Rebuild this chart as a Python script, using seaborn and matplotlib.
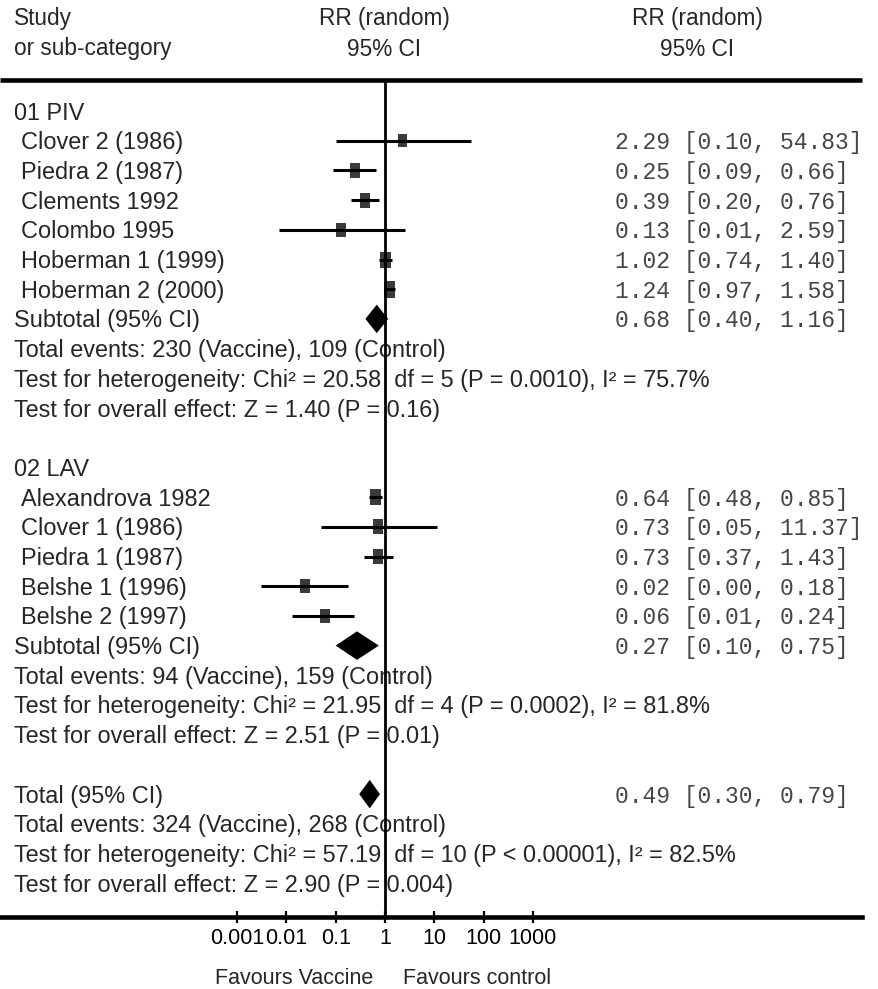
import numpy as np
import pandas as pd
import matplotlib
matplotlib.use("Agg")
import matplotlib.pyplot as plt
import seaborn as sns
from matplotlib.path import Path
from matplotlib.ticker import NullLocator
from matplotlib.transforms import blended_transform_factory

# ---------------- data ----------------
piv_studies = ["Clover 2 (1986)", "Piedra 2 (1987)", "Clements 1992", "Colombo 1995",
               "Hoberman 1 (1999)", "Hoberman 2 (2000)"]
piv_rr = [2.29, 0.25, 0.39, 0.13, 1.02, 1.24]
piv_lo = [0.10, 0.09, 0.20, 0.007, 0.74, 0.97]
piv_hi = [54.83, 0.66, 0.76, 2.59, 1.40, 1.58]
piv_sub = (0.68, 0.40, 1.16)
piv_stats = ["Total events: 230 (Vaccine), 109 (Control)",
             "Test for heterogeneity: Chi\u00b2 = 20.58  df = 5 (P = 0.0010), I\u00b2 = 75.7%",
             "Test for overall effect: Z = 1.40 (P = 0.16)"]

lav_studies = ["Alexandrova 1982", "Clover 1 (1986)", "Piedra 1 (1987)",
               "Belshe 1 (1996)", "Belshe 2 (1997)"]
lav_rr = [0.64, 0.73, 0.73, 0.024, 0.06]
lav_lo = [0.48, 0.05, 0.37, 0.003, 0.013]
lav_hi = [0.85, 11.37, 1.43, 0.18, 0.24]
lav_sub = (0.27, 0.10, 0.75)
lav_stats = ["Total events: 94 (Vaccine), 159 (Control)",
             "Test for heterogeneity: Chi\u00b2 = 21.95  df = 4 (P = 0.0002), I\u00b2 = 81.8%",
             "Test for overall effect: Z = 2.51 (P = 0.01)"]

total_est = (0.49, 0.30, 0.79)
total_stats = ["Total events: 324 (Vaccine), 268 (Control)",
               "Test for heterogeneity: Chi\u00b2 = 57.19  df = 10 (P < 0.00001), I\u00b2 = 82.5%",
               "Test for overall effect: Z = 2.90 (P = 0.004)"]

group_names = ["01 PIV", "02 LAV"]
tick_values = [0.001, 0.01, 0.1, 1, 10, 100, 1000]
tick_labels = ["0.001", "0.01", "0.1", "1", "10", "100", "1000"]

# ---------------- style / layout ----------------
W, H = 879, 989
X0_PX, PX_PER_DEC = 385, 49.3
ROW0_PX, ROW_PX = 111, 29.7
TXT_DY = 2.0 / ROW_PX          # small downward nudge for text centring
piv_box_px = [13, 15, 15, 14, 16, 17]
lav_box_px = [16, 15, 15, 14, 14]

def prow(p):
    return (p - ROW0_PX) / ROW_PX

def fx(p):
    return p / W

sns.set_theme(style="white")
plt.rcParams["font.family"] = ["Liberation Sans", "DejaVu Sans"]
SANS = 16.9
MONO = ["Liberation Mono", "DejaVu Sans Mono"]
MONO_SIZE = 16.6
MONO_COLOR = "#454545"

fig = plt.figure(figsize=(W / 100, H / 100), dpi=100)
ax = fig.add_axes([0, 0, 1, 1])
ax.set_xscale("log")
xlim = (10 ** (-X0_PX / PX_PER_DEC), 10 ** ((W - X0_PX) / PX_PER_DEC))
ylim = (prow(H), prow(0))
trans = blended_transform_factory(ax.transAxes, ax.transData)

# build rows
study_rows, diamond_rows, text_rows = [], [], []
r = 0
for gname, names, rr, lo, hi, box, sub, stats in [
        (group_names[0], piv_studies, piv_rr, piv_lo, piv_hi, piv_box_px, piv_sub, piv_stats),
        (group_names[1], lav_studies, lav_rr, lav_lo, lav_hi, lav_box_px, lav_sub, lav_stats)]:
    text_rows.append((r, gname, fx(14)))
    r += 1
    for n, e, l, h, b in zip(names, rr, lo, hi, box):
        study_rows.append(dict(row=r, name=n, rr=e, lo=l, hi=h, area=(b * 0.72) ** 2))
        r += 1
    diamond_rows.append((r, "Subtotal (95% CI)", sub))
    r += 1
    for s in stats:
        text_rows.append((r, s, fx(14)))
        r += 1
    r += 1
diamond_rows.append((r, "Total (95% CI)", total_est))
r += 1
for s in total_stats:
    text_rows.append((r, s, fx(14)))
    r += 1

df = pd.DataFrame(study_rows)

# study squares
hw = 0.69
box_marker = Path([(-hw, -1), (hw, -1), (hw, 1), (-hw, 1), (-hw, -1)],
                  [Path.MOVETO, Path.LINETO, Path.LINETO, Path.LINETO, Path.CLOSEPOLY])
sns.scatterplot(data=df, x="rr", y="row", size="area",
                sizes=(df["area"].min(), df["area"].max()),
                marker=box_marker, color="#3a3a3a", linewidth=0,
                legend=False, ax=ax, zorder=3)
# CI lines
ax.hlines(df["row"], df["lo"], df["hi"], color="black", lw=2.2, zorder=4)

# diamonds
for row, label, (e, l, h) in diamond_rows:
    dh = 0.48
    ax.fill([l, e, h, e], [row, row - dh, row, row + dh], color="black", lw=0, zorder=4)
    ax.text(fx(14), row + TXT_DY, label, transform=trans, fontsize=SANS, va="center", ha="left")
    ax.text(fx(615), row + TXT_DY, f"{e:.2f} [{l:.2f}, {h:.2f}]", transform=trans,
            fontsize=MONO_SIZE, family=MONO, va="center", ha="left", color=MONO_COLOR)

for _, s in df.iterrows():
    ax.text(fx(21), s["row"] + TXT_DY, s["name"], transform=trans, fontsize=SANS,
            va="center", ha="left")
    ax.text(fx(615), s["row"] + TXT_DY, f"{s['rr']:.2f} [{s['lo']:.2f}, {s['hi']:.2f}]",
            transform=trans, fontsize=MONO_SIZE, family=MONO, va="center", ha="left",
            color=MONO_COLOR)

for row, s, xx in text_rows:
    ax.text(xx, row + TXT_DY, s, transform=trans, fontsize=SANS, va="center", ha="left")

# headers
for yp, a, b, c in [(19, "Study", "RR (random)", "RR (random)"),
                    (49, "or sub-category", "95% CI", "95% CI")]:
    ax.text(fx(14), prow(yp), a, transform=trans, fontsize=16.3, va="center", ha="left")
    ax.text(fx(384), prow(yp), b, transform=trans, fontsize=16.3, va="center", ha="center")
    ax.text(fx(697), prow(yp), c, transform=trans, fontsize=16.3, va="center", ha="center")

# top rule and null line
ax.hlines(prow(80), xlim[0], 10 ** ((862 - X0_PX) / PX_PER_DEC), color="black", lw=3.3, zorder=5)
ax.vlines(1, prow(80), prow(917), color="black", lw=2.0, zorder=6)

# bottom axis
ax.set_xlim(*xlim)
ax.set_ylim(*ylim)
for side in ["left", "right", "top"]:
    ax.spines[side].set_visible(False)
sp = ax.spines["bottom"]
sp.set_position(("data", prow(917)))
sp.set_bounds(xlim[0], 10 ** ((862 - X0_PX) / PX_PER_DEC))
sp.set_linewidth(3.3)
sp.set_color("black")
sp.set_zorder(5)
ax.set_xticks(tick_values, labels=tick_labels)
ax.xaxis.set_minor_locator(NullLocator())
ax.tick_params(axis="x", which="major", direction="inout", length=8, width=1.6,
               color="black", labelsize=15.5, pad=4, labelcolor="black", bottom=True)
ax.set_yticks([])
ax.set_xlabel("")
ax.set_ylabel("")
ax.grid(False)

ax.text(fx(373), prow(979), "Favours Vaccine", transform=trans, fontsize=15.5,
        va="center", ha="right")
ax.text(fx(403), prow(979), "Favours control", transform=trans, fontsize=15.5,
        va="center", ha="left")

fig.savefig("out.png", dpi=100, facecolor="white")
